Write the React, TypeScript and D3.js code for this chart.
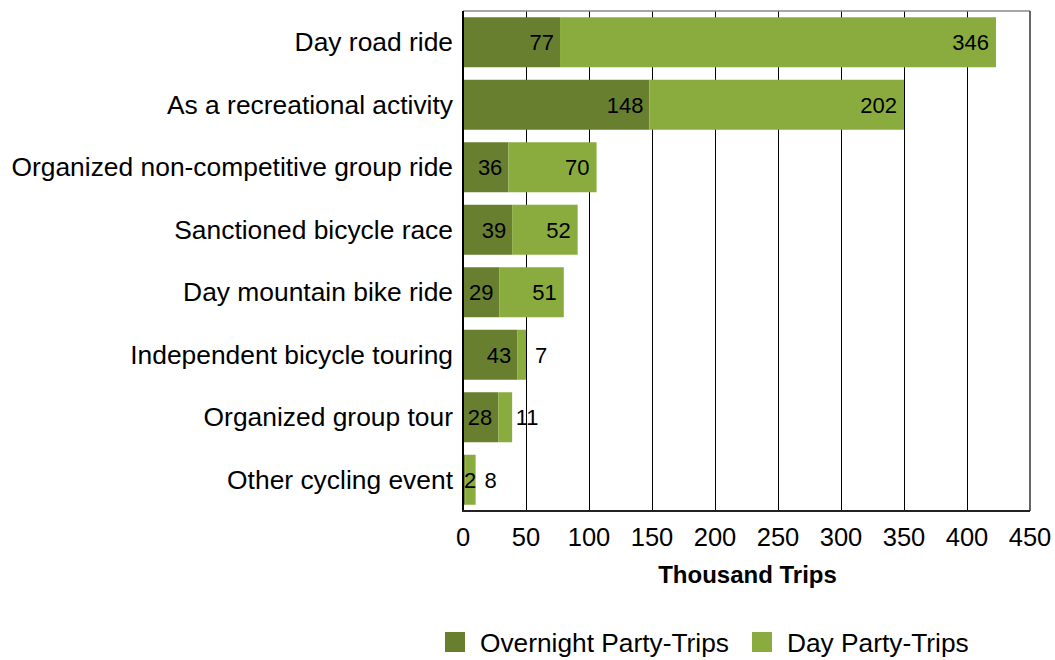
import React from "react";
import * as d3 from "d3";

const categories = [
  "Day road ride",
  "As a recreational activity",
  "Organized non-competitive group ride",
  "Sanctioned bicycle race",
  "Day mountain bike ride",
  "Independent bicycle touring",
  "Organized group tour",
  "Other cycling event",
];
const overnight = [77, 148, 36, 39, 29, 43, 28, 2];
const dayTrips = [346, 202, 70, 52, 51, 7, 11, 8];
const xTicks = [0, 50, 100, 150, 200, 250, 300, 350, 400, 450];
const seriesNames = ["Overnight Party-Trips", "Day Party-Trips"];
const colors = ["#687F30", "#8AAC3F"];
const axisTitle = "Thousand Trips";

const W = 1055;
const H = 660;
const left = 463;
const right = 1030;
const top = 11;
const bottom = 511;
const FONT = "Liberation Sans, Arial, sans-serif";

export default function App() {
  const x = d3.scaleLinear().domain([0, 450]).range([left, right]);
  const y = d3
    .scaleBand<string>()
    .domain(categories)
    .range([top, bottom])
    .paddingInner(0.2)
    .paddingOuter(0.1);
  const bh = y.bandwidth();
  const px = (v: number) => Math.round(x(v)) + 0.5;

  return (
    <svg
      width={W}
      height={H}
      style={{ position: "absolute", left: 0, top: 0, fontFamily: FONT }}
    >
      <rect x={0} y={0} width={W} height={H} fill="#fff" />
      {/* gridlines */}
      {xTicks.slice(1, -1).map((t) => (
        <line
          key={t}
          x1={px(t)}
          x2={px(t)}
          y1={top}
          y2={bottom}
          stroke="#000"
          strokeWidth={1}
        />
      ))}
      <line x1={left} x2={right} y1={top} y2={top} stroke="#888" strokeWidth={1.5} />
      <line x1={right} x2={right} y1={top} y2={bottom} stroke="#333" strokeWidth={1.5} />
      {/* bars */}
      {categories.map((c, i) => {
        const y0 = y(c)!;
        const o = overnight[i];
        const d = dayTrips[i];
        const x0 = x(0);
        const x1 = x(o);
        const x2 = x(o + d);
        const cy = y0 + bh / 2 + 8;
        const oWide = x1 - x0 > 30;
        const dWide = x2 - x1 > 45;
        return (
          <g key={c}>
            <rect x={x0} y={y0} width={x1 - x0} height={bh} fill={colors[0]} />
            <rect x={x1} y={y0} width={x2 - x1} height={bh} fill={colors[1]} />
            <text
              x={oWide ? x1 - 6 : x0 + 1}
              y={cy}
              textAnchor={oWide ? "end" : "start"}
              fontSize={22}
              fill="#000"
            >
              {o}
            </text>
            <text
              x={dWide ? x2 - 7 : x2 + 15}
              y={cy}
              textAnchor={dWide ? "end" : "middle"}
              fontSize={22}
              fill="#000"
            >
              {d}
            </text>
            <text
              x={left - 10}
              y={y0 + bh / 2 + 9}
              textAnchor="end"
              fontSize={26.4}
              fill="#000"
            >
              {c}
            </text>
          </g>
        );
      })}
      {/* axes */}
      <line x1={left} x2={left} y1={top} y2={bottom} stroke="#000" strokeWidth={2} />
      <line x1={left - 1} x2={right} y1={bottom} y2={bottom} stroke="#222" strokeWidth={2} />
      {xTicks.map((t) => (
        <text
          key={t}
          x={x(t)}
          y={546}
          textAnchor="middle"
          fontSize={25.5}
          fill="#000"
        >
          {t}
        </text>
      ))}
      <text
        x={(left + right) / 2 + 1}
        y={583}
        textAnchor="middle"
        fontSize={24}
        fontWeight="bold"
        fill="#000"
      >
        {axisTitle}
      </text>
      {/* legend */}
      {seriesNames.map((s, i) => {
        const lx = i === 0 ? 445 : 752;
        return (
          <g key={s}>
            <rect x={lx} y={632} width={20} height={20} fill={colors[i]} />
            <text x={lx + 35} y={652} fontSize={26.3} fill="#000">
              {s}
            </text>
          </g>
        );
      })}
    </svg>
  );
}
